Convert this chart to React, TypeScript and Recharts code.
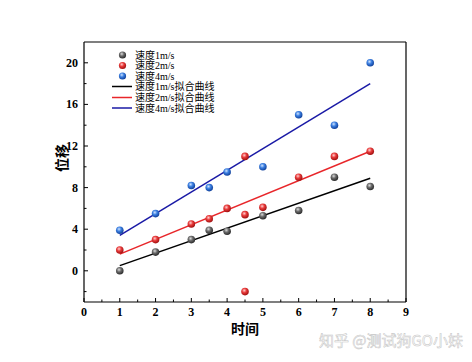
import React from 'react';
import { ScatterChart, Scatter, XAxis, YAxis, ReferenceLine } from 'recharts';

const x1 = [1, 2, 3, 3.5, 4, 5, 6, 7, 8];
const y1 = [0, 1.8, 3, 3.9, 3.8, 5.3, 5.8, 9, 8.1];
const x2 = [1, 2, 3, 3.5, 4, 4.5, 4.5, 4.5, 5, 6, 7, 8];
const y2 = [2, 3, 4.5, 5, 6, 11, 5.4, -2, 6.1, 9, 11, 11.5];
const x4 = [1, 2, 3, 3.5, 4, 5, 6, 7, 8];
const y4 = [3.9, 5.5, 8.2, 8, 9.5, 10, 15, 14, 20];

// fitted lines (end points)
const fitX = [1, 8];
const fit1 = [0.5, 8.9];
const fit2 = [1.6, 11.5];
const fit4 = [3.4, 18];

const xTicks = [0, 0.5, 1, 1.5, 2, 2.5, 3, 3.5, 4, 4.5, 5, 5.5, 6, 6.5, 7, 7.5, 8, 8.5, 9];
const yTicks = [-2, 0, 2, 4, 6, 8, 10, 12, 14, 16, 18, 20];

const names = ['速度1m/s', '速度2m/s', '速度4m/s', '速度1m/s拟合曲线', '速度2m/s拟合曲线', '速度4m/s拟合曲线'];

const zip = (xs: number[], ys: number[]) => xs.map((x, i) => ({ x, y: ys[i] }));

const FONT = '"Liberation Serif", "Times New Roman", "Noto Sans CJK SC", serif';

const Ball = (id: string) => (props: any) => {
  const { cx, cy } = props;
  if (cx == null || cy == null) return null;
  return <circle cx={cx} cy={cy} r={3.8} fill={`url(#${id})`} />;
};

const NoDot = () => null;

const XTick = (props: any) => {
  const { x, y, payload } = props;
  const v = payload.value;
  const major = Number.isInteger(v);
  return (
    <g>
      <line x1={x} x2={x} y1={y} y2={y - (major ? 4 : 2.5)} stroke="#000" strokeWidth={1} />
      {major && (
        <text x={x} y={y + 14} textAnchor="middle" fontFamily={FONT} fontWeight="bold" fontSize={12} fill="#000">
          {v}
        </text>
      )}
    </g>
  );
};

const YTick = (props: any) => {
  const { x, y, payload } = props;
  const v = payload.value;
  const major = v % 4 === 0;
  return (
    <g>
      <line x1={x} x2={x + (major ? 4 : 2.5)} y1={y} y2={y} stroke="#000" strokeWidth={1} />
      {major && (
        <text x={x - 6} y={y + 4} textAnchor="end" fontFamily={FONT} fontWeight="bold" fontSize={12} fill="#000">
          {v}
        </text>
      )}
    </g>
  );
};

const LegendBox = () => {
  const balls = ['g1', 'g2', 'g4'];
  const lines = ['#000000', '#e8262a', '#1a1aa6'];
  const rows = [55, 65.5, 76, 86.5, 97.5, 108];
  return (
    <g fontFamily={FONT} fontSize={10} fill="#000">
      {rows.map((ry, i) => (
        <g key={i}>
          {i < 3 ? (
            <circle cx={122.5} cy={ry} r={3.6} fill={`url(#${balls[i]})`} />
          ) : (
            <line x1={112} x2={132} y1={ry} y2={ry} stroke={lines[i - 3]} strokeWidth={1.5} />
          )}
          <text x={135} y={ry + 3.5}>{names[i]}</text>
        </g>
      ))}
    </g>
  );
};

export default function App() {
  return (
    <div style={{ position: 'absolute', left: 0, top: 0, width: 472, height: 362, background: '#fff' }}>
      <ScatterChart width={472} height={362} margin={{ top: 42, right: 66, bottom: 30, left: 44 }}>
        <defs>
          <radialGradient id="g1" cx="40%" cy="35%" r="65%">
            <stop offset="0%" stopColor="#dcdcdc" />
            <stop offset="45%" stopColor="#6a6a6a" />
            <stop offset="100%" stopColor="#2a2a2a" />
          </radialGradient>
          <radialGradient id="g2" cx="40%" cy="35%" r="65%">
            <stop offset="0%" stopColor="#ffd0d0" />
            <stop offset="45%" stopColor="#e83a3a" />
            <stop offset="100%" stopColor="#a01010" />
          </radialGradient>
          <radialGradient id="g4" cx="40%" cy="35%" r="65%">
            <stop offset="0%" stopColor="#d0e4ff" />
            <stop offset="45%" stopColor="#3a7ee0" />
            <stop offset="100%" stopColor="#10409a" />
          </radialGradient>
        </defs>
        <XAxis
          type="number"
          dataKey="x"
          xAxisId="b"
          domain={[0, 9]}
          ticks={xTicks}
          interval={0}
          height={30}
          tickSize={0}
          tickMargin={0}
          tickLine={false}
          tick={<XTick />}
          axisLine={{ stroke: '#000', strokeWidth: 1.2 }}
          label={{ value: '时间', position: 'insideBottom', offset: -2, fontFamily: FONT, fontWeight: 'bold', fontSize: 14, fill: '#000' }}
        />
        <YAxis
          type="number"
          dataKey="y"
          yAxisId="l"
          domain={[-3, 22]}
          ticks={yTicks}
          interval={0}
          width={40}
          tickSize={0}
          tickMargin={0}
          tickLine={false}
          tick={<YTick />}
          axisLine={{ stroke: '#000', strokeWidth: 1.2 }}
          label={{ value: '位移', angle: -90, position: 'insideLeft', offset: 18, fontFamily: FONT, fontWeight: 'bold', fontSize: 14, fill: '#000' }}
        />
        <ReferenceLine xAxisId="b" yAxisId="l" y={22} stroke="#000" strokeWidth={1.2} />
        <ReferenceLine xAxisId="b" yAxisId="l" x={9} stroke="#000" strokeWidth={1.2} />

        <Scatter xAxisId="b" yAxisId="l" name={names[3]} data={zip(fitX, fit1)} line={{ stroke: '#000000', strokeWidth: 1.5 }} shape={NoDot} isAnimationActive={false} />
        <Scatter xAxisId="b" yAxisId="l" name={names[4]} data={zip(fitX, fit2)} line={{ stroke: '#e8262a', strokeWidth: 1.5 }} shape={NoDot} isAnimationActive={false} />
        <Scatter xAxisId="b" yAxisId="l" name={names[5]} data={zip(fitX, fit4)} line={{ stroke: '#1a1aa6', strokeWidth: 1.5 }} shape={NoDot} isAnimationActive={false} />

        <Scatter xAxisId="b" yAxisId="l" name={names[0]} data={zip(x1, y1)} shape={Ball('g1')} isAnimationActive={false} />
        <Scatter xAxisId="b" yAxisId="l" name={names[1]} data={zip(x2, y2)} shape={Ball('g2')} isAnimationActive={false} />
        <Scatter xAxisId="b" yAxisId="l" name={names[2]} data={zip(x4, y4)} shape={Ball('g4')} isAnimationActive={false} />

        <LegendBox />
        <text x={391} y={346} textAnchor="middle" fontFamily='"Noto Sans CJK SC", sans-serif' fontSize={15} fill="#fff" stroke="#c4c4c4" strokeWidth={0.5}>
          知乎 @测试狗GO小妹
        </text>
      </ScatterChart>
    </div>
  );
}
